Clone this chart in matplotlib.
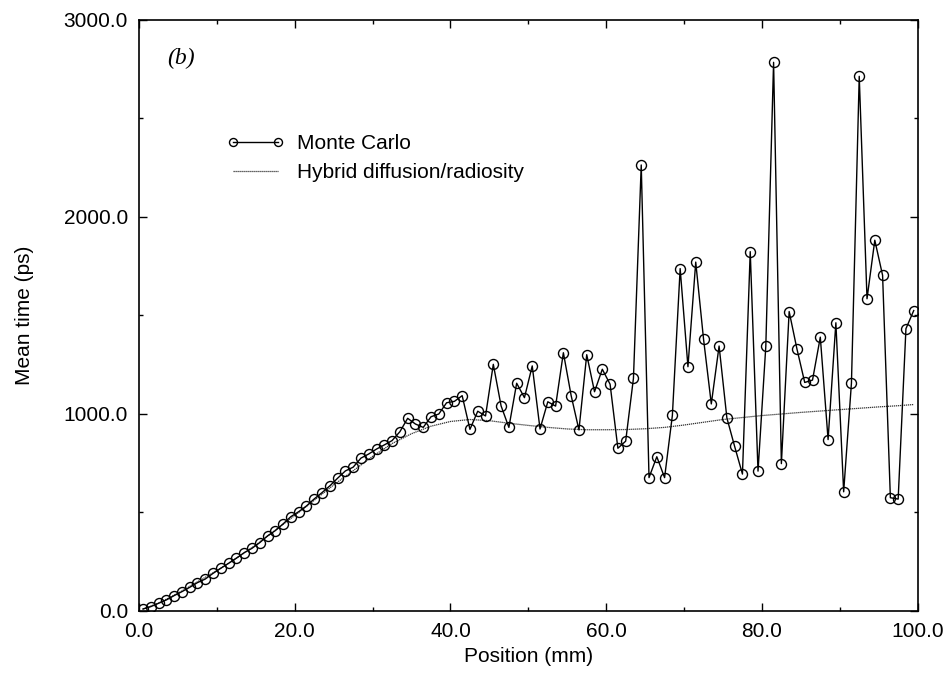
import matplotlib
matplotlib.use("Agg")
import matplotlib.pyplot as plt
from matplotlib.ticker import MultipleLocator, FormatStrFormatter

plt.rcParams['font.family'] = ['Liberation Sans', 'DejaVu Sans']

# Monte Carlo: positions (mm) and mean times (ps)
mc_x = [i + 0.5 for i in range(100)]
mc_y = [10, 22, 39, 56, 78, 98, 120, 144, 162, 191,
        217, 242, 268, 296, 318, 347, 381, 408, 442, 479,
        504, 533, 569, 601, 635, 674, 711, 730, 776, 797,
        822, 843, 865, 910, 978, 949, 932, 986, 1000, 1057,
        1064, 1093, 922, 1014, 990, 1252, 1041, 932, 1156, 1083,
        1244, 924, 1062, 1040, 1311, 1093, 919, 1301, 1113, 1227,
        1151, 826, 862, 1181, 2264, 677, 783, 677, 993, 1738,
        1240, 1771, 1381, 1051, 1345, 980, 835, 695, 1824, 710,
        1343, 2785, 748, 1520, 1330, 1160, 1172, 1390, 870, 1463,
        605, 1157, 2714, 1585, 1882, 1704, 575, 568, 1433, 1525]

# Hybrid diffusion/radiosity curve
hy_x = [0.5, 2.5, 5.0, 7.5, 10.0, 12.5, 15.0, 17.5, 20.0, 22.5,
        25.0, 27.5, 30.0, 32.5, 35.0, 37.5, 40.0, 42.5, 45.0, 47.5,
        50.0, 52.5, 55.0, 57.5, 60.0, 62.5, 65.0, 67.5, 70.0, 72.5,
        75.0, 77.5, 80.0, 82.5, 85.0, 87.5, 90.0, 92.5, 95.0, 97.5, 99.5]
hy_y = [10, 40, 90, 148, 205, 268, 335, 410, 485, 562,
        640, 712, 785, 850, 900, 938, 962, 972, 966, 953,
        942, 932, 924, 920, 920, 921, 925, 932, 944, 958,
        972, 982, 992, 1000, 1008, 1015, 1022, 1029, 1036, 1042, 1048]

x_ticks = [0, 20, 40, 60, 80, 100]
y_ticks = [0, 1000, 2000, 3000]

FS = 15

fig = plt.figure(figsize=(9.46, 6.77), dpi=100)
ax = fig.add_axes([0.147, 0.0975, 0.823, 0.873])

ax.plot(hy_x, hy_y, linestyle=(0, (1, 0.6)), color='#333333', lw=0.9,
        label='Hybrid diffusion/radiosity', zorder=2)
ax.plot(mc_x, mc_y, '-o', color='black', lw=1.0, markersize=7.2,
        markerfacecolor='none', markeredgewidth=1.0,
        label='Monte Carlo', zorder=3)

ax.set_xlim(0, 100)
ax.set_ylim(0, 3000)
ax.set_xticks(x_ticks)
ax.set_yticks(y_ticks)
ax.xaxis.set_minor_locator(MultipleLocator(10))
ax.yaxis.set_minor_locator(MultipleLocator(500))
ax.xaxis.set_major_formatter(FormatStrFormatter('%.1f'))
ax.yaxis.set_major_formatter(FormatStrFormatter('%.1f'))
ax.tick_params(which='both', direction='in', top=True, right=True,
               labelsize=FS, width=1.0)
ax.tick_params(which='major', length=6, pad=8)
ax.tick_params(which='minor', length=3)
for s in ax.spines.values():
    s.set_linewidth(1.2)

ax.set_xlabel('Position (mm)', fontsize=FS, labelpad=4)
ax.set_ylabel('Mean time (ps)', fontsize=FS, labelpad=21)

ax.text(0.036, 0.953, '(b)', transform=ax.transAxes, fontsize=17,
        family='Liberation Serif', style='italic', va='top')

handles, labels = ax.get_legend_handles_labels()
leg = ax.legend(handles[::-1], labels[::-1], loc='upper left',
                bbox_to_anchor=(0.112, 0.807), frameon=False, numpoints=2,
                fontsize=FS, handlelength=2.8, handletextpad=0.6,
                labelspacing=0.5, borderpad=0, borderaxespad=0,
                markerscale=0.8)

fig.savefig('out.png', dpi=100)
